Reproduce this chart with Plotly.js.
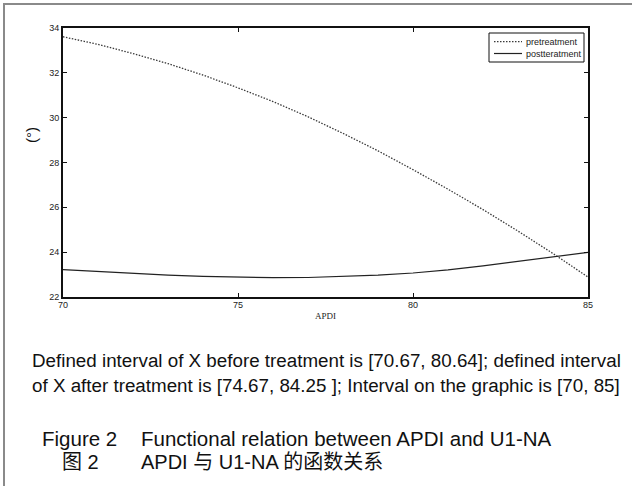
<!DOCTYPE html>
<html>
<head>
<meta charset="utf-8">
<script src="https://cdn.plot.ly/plotly-3.0.1.min.js"></script>
<style>
html,body{margin:0;padding:0;background:#fff;}
#wrap{position:relative;width:632px;height:486px;overflow:hidden;}
#chart{position:absolute;left:0;top:0;width:632px;height:486px;}
#frame{position:absolute;left:3px;top:3px;width:640px;height:500px;border-left:2.5px solid #8a8a8a;border-top:2.5px solid #8a8a8a;pointer-events:none;}
</style>
</head>
<body>
<div id="wrap"><div id="chart"></div><div id="frame"></div></div>
<script>
// ---- data ----
const apdi = [70, 71, 72, 73, 74, 75, 76, 77, 78, 79, 80, 81, 82, 83, 84, 85];
const pretreatment = [33.61, 33.27, 32.86, 32.41, 31.90, 31.33, 30.72, 30.04, 29.30, 28.52, 27.68, 26.81, 25.90, 24.94, 23.94, 22.89];
const posttreatment = [23.22, 23.13, 23.05, 22.98, 22.92, 22.88, 22.86, 22.87, 22.91, 22.98, 23.07, 23.21, 23.39, 23.58, 23.78, 23.99];
const seriesNames = ['pretreatment', 'postteratment'];
const xTicks = [70, 75, 80, 85];
const yTicks = [22, 24, 26, 28, 30, 32, 34];
const xTitle = 'APDI';
const yTitle = '(°)';
const noteLines = [
  'Defined interval of X before treatment is [70.67, 80.64]; defined interval',
  'of X after treatment is [74.67, 84.25 ]; Interval on the graphic is [70, 85]'
];
const captionEnLabel = 'Figure 2';
const captionEnText = 'Functional relation between APDI and U1-NA';
const captionZhLabel = '图 2';
const captionZhText = 'APDI 与 U1-NA 的函数关系';

// ---- layout helpers (pixel -> paper) ----
const L = 63, R = 588, T = 28, B = 297;
const px = v => (v - L) / (R - L);
const py = v => (B - v) / (B - T);

const sans = 'Liberation Sans, Arial, Noto Sans CJK SC, sans-serif';
const txtColor = '#111';

const traces = [
  {x: apdi, y: pretreatment, name: seriesNames[0], mode: 'lines', showlegend: false,
   line: {color: '#3a3a3a', width: 1.3, dash: '1.5px,1.5px'}},
  {x: apdi, y: posttreatment, name: seriesNames[1], mode: 'lines', showlegend: false,
   line: {color: '#222', width: 1.2}}
];

const axisCommon = {
  showline: true, linecolor: '#111', linewidth: 2, mirror: 'ticks',
  ticks: 'inside', ticklen: 4, tickwidth: 1, tickcolor: '#111',
  showgrid: false, zeroline: false,
  tickfont: {family: sans, size: 9, color: '#222'}
};

function ann(text, x, y, size, xanchor, extra) {
  return Object.assign({text: text, xref: 'paper', yref: 'paper', x: px(x), y: py(y),
    xanchor: xanchor, yanchor: 'middle', showarrow: false,
    font: {family: sans, size: size, color: txtColor}}, extra || {});
}

// legend drawn as a small framed box (sample strokes + labels)
const legBox = {x0: 489, x1: 584, y0: 33, y1: 62};
const legRows = [41.7, 53.5];
const legShapes = [
  {type: 'rect', xref: 'paper', yref: 'paper', x0: px(legBox.x0), x1: px(legBox.x1), y0: py(legBox.y0), y1: py(legBox.y1),
   line: {color: '#111', width: 1}, fillcolor: '#fff'},
  {type: 'line', xref: 'paper', yref: 'paper', x0: px(494), x1: px(522), y0: py(legRows[0]), y1: py(legRows[0]),
   line: {color: '#3a3a3a', width: 1.2, dash: '1.5px,1.5px'}},
  {type: 'line', xref: 'paper', yref: 'paper', x0: px(494), x1: px(522), y0: py(legRows[1]), y1: py(legRows[1]),
   line: {color: '#222', width: 1.2}}
];

const layout = {
  width: 632, height: 486,
  margin: {l: L, r: 632 - R, t: T, b: 486 - B},
  paper_bgcolor: '#fff', plot_bgcolor: '#fff',
  showlegend: false,
  xaxis: Object.assign({}, axisCommon, {range: [70, 85], tickvals: xTicks, ticktext: xTicks.map(String), ticklabelstandoff: -2}),
  yaxis: Object.assign({}, axisCommon, {range: [22, 34], tickvals: yTicks, ticktext: yTicks.map(String)}),
  shapes: legShapes,
  annotations: [
    ann(seriesNames[0], 524, legRows[0], 9, 'left', {font: {family: sans, size: 9, color: '#222'}}),
    ann(seriesNames[1], 524, legRows[1], 9, 'left', {font: {family: sans, size: 9, color: '#222'}}),
    ann(xTitle, 325, 316, 9, 'center', {font: {family: 'Liberation Serif, Times New Roman, serif', size: 9, color: '#222'}}),
    ann(yTitle, 31, 135, 15, 'center', {textangle: -90}),
    ann(noteLines[0], 30, 361, 18.8, 'left'),
    ann(noteLines[1], 30, 385.5, 18.8, 'left'),
    ann(captionEnLabel, 40, 438, 20.5, 'left'),
    ann(captionEnText, 139, 438, 20.5, 'left'),
    ann(captionZhLabel, 60, 462, 20, 'left'),
    ann(captionZhText, 139, 462, 20, 'left')
  ]
};

Plotly.newPlot('chart', traces, layout, {displayModeBar: false, staticPlot: true});
</script>
</body>
</html>
